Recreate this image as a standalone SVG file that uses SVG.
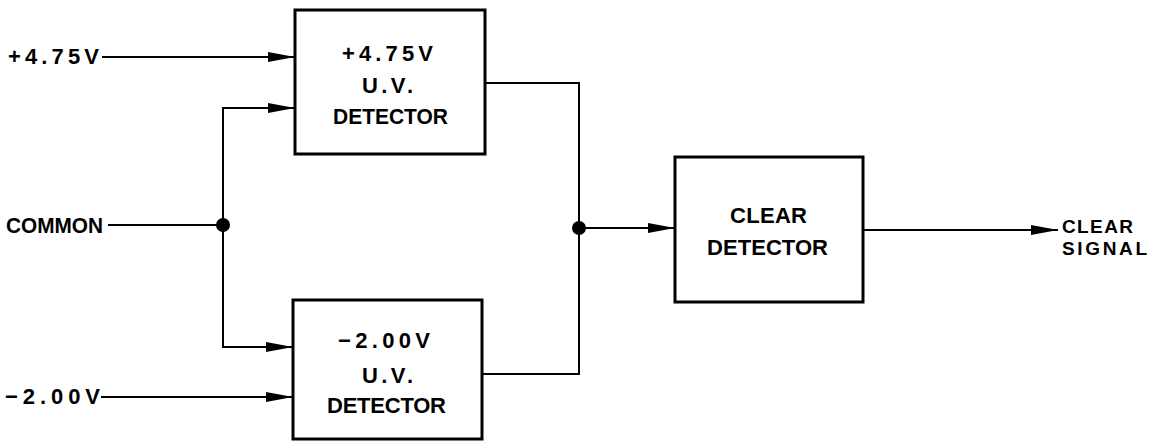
<svg xmlns="http://www.w3.org/2000/svg" width="1150" height="445" viewBox="0 0 1150 445">
<style>
.box{fill:#fff;stroke:#000;stroke-width:3}
.w{fill:none;stroke:#000;stroke-width:2}
.t{font-family:"Liberation Sans",Arial,sans-serif;font-weight:bold;font-size:22px;fill:#000}
.s{font-size:19px}
</style>
<defs>
<marker id="ah" markerUnits="userSpaceOnUse" markerWidth="28" markerHeight="12" refX="27" refY="6" orient="auto">
<path d="M0,1 L27,6 L0,11 z" fill="#000"/>
</marker>
</defs>
<rect width="1150" height="445" fill="#fff"/>
<g id="connectors">
<line class="w" x1="102" y1="57" x2="295" y2="57" marker-end="url(#ah)"/>
<line class="w" x1="108" y1="225" x2="223" y2="225"/>
<polyline class="w" points="223,225 223,108 295,108" marker-end="url(#ah)"/>
<polyline class="w" points="223,225 223,347 293,347" marker-end="url(#ah)"/>
<line class="w" x1="101" y1="397" x2="293" y2="397" marker-end="url(#ah)"/>
<polyline class="w" points="485,83 579,83 579,374 482,374"/>
<line class="w" x1="579" y1="228" x2="675" y2="228" marker-end="url(#ah)"/>
<line class="w" x1="863" y1="230" x2="1058" y2="230" marker-end="url(#ah)"/>
<circle cx="223" cy="225" r="7" fill="#000"/>
<circle cx="579" cy="228" r="7" fill="#000"/>
</g>
<g id="in-475">
<text class="t" x="8" y="64" textLength="91">+4.75V</text>
</g>
<g id="in-common">
<text class="t" x="6" y="233" textLength="97" lengthAdjust="spacingAndGlyphs">COMMON</text>
</g>
<g id="in-200">
<text class="t" x="5" y="404" textLength="95">−2.00V</text>
</g>
<g id="uv475">
<rect class="box" x="295" y="10" width="190" height="144"/>
<text class="t" x="342" y="61" textLength="91">+4.75V</text>
<text class="t" x="362" y="93" textLength="51">U.V.</text>
<text class="t" x="333" y="124" textLength="115" lengthAdjust="spacingAndGlyphs">DETECTOR</text>
</g>
<g id="uv200">
<rect class="box" x="293" y="300" width="189" height="139"/>
<text class="t" x="338" y="348" textLength="92">−2.00V</text>
<text class="t" x="362" y="383" textLength="51">U.V.</text>
<text class="t" x="327" y="413" textLength="119">DETECTOR</text>
</g>
<g id="clear">
<rect class="box" x="675" y="157" width="188" height="145"/>
<text class="t" x="730" y="223" textLength="77">CLEAR</text>
<text class="t" x="707" y="255" textLength="121">DETECTOR</text>
</g>
<g id="out">
<text class="t s" x="1062" y="233" textLength="71">CLEAR</text>
<text class="t s" x="1062" y="255" textLength="85">SIGNAL</text>
</g>
</svg>
